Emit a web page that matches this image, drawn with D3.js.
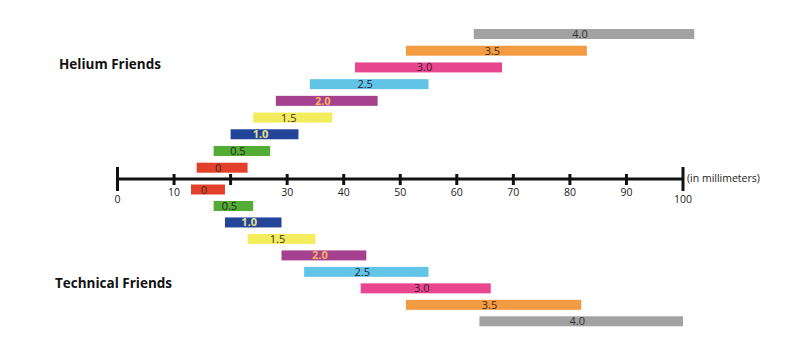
<!DOCTYPE html>
<html>
<head>
<meta charset="utf-8">
<script src="https://cdn.jsdelivr.net/npm/d3@7"></script>
<style>
  body { margin: 0; background: #fff; }
  svg { display: block; font-family: "Open Sans", sans-serif; }
</style>
</head>
<body>
<svg></svg>
<script>
// bubble sizes (labels) and ranges in mm
const sizes = ["0", "0.5", "1.0", "1.5", "2.0", "2.5", "3.0", "3.5", "4.0"];
const heliumStart = [14, 17, 20, 24, 28, 34, 42, 51, 63];
const heliumEnd = [23, 27, 32, 38, 46, 55, 68, 83, 102];
const technicalStart = [13, 17, 19, 23, 29, 33, 43, 51, 64];
const technicalEnd = [19, 24, 29, 35, 44, 55, 66, 82, 100];
const barColors = ["#e2402b", "#53ad35", "#22459a", "#f3ec5c", "#a6418f", "#62c5e8", "#e8468e", "#f39b43", "#a2a2a2"];
const labelColors = ["#3a2a1a", "#222", "#ece38a", "#333", "#f6b25e", "#223", "#3a1a2a", "#3a2a1a", "#333"];
const tickLabels = [0, 10, 30, 40, 50, 60, 70, 80, 90, 100];
const minorTicks = [10, 20, 30, 40, 50, 60, 70, 80, 90];

const width = 800;
const height = 355;

const svg = d3.select("svg")
    .attr("width", width)
    .attr("height", height);

const x = d3.scaleLinear().domain([0, 100]).range([117.5, 683]);
// rows go up for helium, down for technical
const yHelium = d3.scaleLinear().domain([0, 8]).range([167.7, 34]);
const yTech = d3.scaleLinear().domain([0, 8]).range([189.5, 321.3]);
const barH = 10;
const axisY = 179;

function drawGroup(starts, ends, y) {
    const rows = sizes.map((s, i) => ({ label: s, start: starts[i], end: ends[i], i: i }));
    const g = svg.append("g");
    g.selectAll("rect")
        .data(rows)
        .enter().append("rect")
        .attr("x", d => x(d.start))
        .attr("y", d => y(d.i) - barH / 2)
        .attr("width", d => x(d.end) - x(d.start))
        .attr("height", barH)
        .attr("fill", d => barColors[d.i]);
    g.selectAll("text")
        .data(rows)
        .enter().append("text")
        .attr("x", d => (x(d.start) + x(d.end)) / 2 - 4)
        .attr("y", d => y(d.i) + 4)
        .attr("text-anchor", "middle")
        .attr("font-size", 11)
        .attr("font-weight", d => (d.label == "1.0" || d.label == "2.0") ? "bold" : "normal")
        .attr("fill", d => labelColors[d.i])
        .text(d => d.label);
}

drawGroup(heliumStart, heliumEnd, yHelium);
drawGroup(technicalStart, technicalEnd, yTech);

// axis line
svg.append("line")
    .attr("x1", x(0)).attr("x2", x(100))
    .attr("y1", axisY).attr("y2", axisY)
    .attr("stroke", "#111").attr("stroke-width", 3);

svg.selectAll(".minor")
    .data(minorTicks)
    .enter().append("line")
    .attr("class", "minor")
    .attr("x1", d => x(d)).attr("x2", d => x(d))
    .attr("y1", axisY - 5).attr("y2", axisY + 6)
    .attr("stroke", "#111").attr("stroke-width", 3);

svg.selectAll(".major")
    .data([0, 100])
    .enter().append("line")
    .attr("class", "major")
    .attr("x1", d => x(d)).attr("x2", d => x(d))
    .attr("y1", axisY - 12).attr("y2", axisY + 12)
    .attr("stroke", "#111").attr("stroke-width", 3);

svg.selectAll(".tick-label")
    .data(tickLabels)
    .enter().append("text")
    .attr("class", "tick-label")
    .attr("x", d => x(d))
    .attr("y", d => (d == 0 || d == 100) ? 203 : 196)
    .attr("text-anchor", "middle")
    .attr("font-size", 10.5)
    .attr("fill", "#222")
    .text(d => d);

svg.append("text")
    .attr("x", 687).attr("y", 182)
    .attr("font-size", 10.5)
    .attr("fill", "#222")
    .text("(in millimeters)");

svg.append("text")
    .attr("x", 59).attr("y", 69)
    .attr("font-size", 13.5)
    .attr("font-weight", "bold")
    .attr("fill", "#111")
    .text("Helium Friends");

svg.append("text")
    .attr("x", 55).attr("y", 288)
    .attr("font-size", 13.5)
    .attr("font-weight", "bold")
    .attr("fill", "#111")
    .text("Technical Friends");
</script>
</body>
</html>
